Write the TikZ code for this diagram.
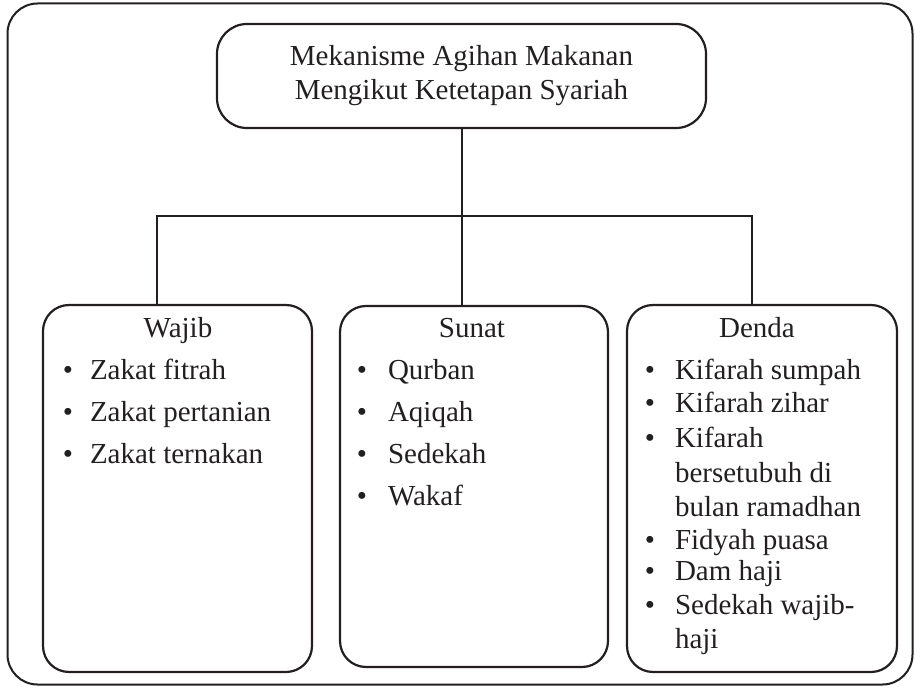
\documentclass[tikz,border=0pt]{standalone}
\usepackage{fontspec}
\setmainfont{Liberation Serif}
\definecolor{ink}{RGB}{35,31,32}
\begin{document}
\begin{tikzpicture}[x=1pt,y=-1pt,
  every node/.style={inner sep=0pt, outer sep=0pt, text=ink, font=\fontsize{29}{34}\selectfont},
  boxst/.style={draw=ink, line width=2.2pt, rounded corners=26pt, rectangle, anchor=north west},
  link/.style={draw=ink, line width=2pt}]
\useasboundingbox (0,0) rectangle (915,687);
% boxes
\node[boxst, line width=2pt, rounded corners=30pt, minimum width=905pt, minimum height=681pt] (outer) at (7.5,3.5) {};
\node[boxst, rounded corners=30pt, minimum width=489pt, minimum height=104pt] (top) at (217,24) {};
\node[boxst, minimum width=269pt, minimum height=367pt] (wajib) at (43,305) {};
\node[boxst, minimum width=268pt, minimum height=361pt] (sunat) at (340,306) {};
\node[boxst, minimum width=270pt, minimum height=367pt] (denda) at (627,305) {};
% title
\node[align=center] (title) at (top.center) {Mekanisme Agihan Makanan\\Mengikut Ketetapan Syariah};
% connectors
\coordinate (hl) at (157,216);
\coordinate (hr) at (752,216);
\draw[link] (wajib.north -| hl) -- (hl) -- (hr) -- (denda.north -| hr);
\draw[link] (top.south) -- (top.south |- sunat.north);
% headings
\node[anchor=base] (wt) at (178,337) {Wajib};
\node[anchor=base] (st) at (472,337) {Sunat};
\node[anchor=base] (dt) at (757,337) {Denda};
% Wajib items
\foreach \t/\y [count=\i] in {Zakat fitrah/379, Zakat pertanian/421, Zakat ternakan/463}{
  \node[anchor=base] (wb\i) at (68,\y) {•};
  \node[anchor=base west] (wi\i) at (90,\y) {\t};
}
% Sunat items
\foreach \t/\y [count=\i] in {Qurban/379, Aqiqah/421, Sedekah/463, Wakaf/505}{
  \node[anchor=base] (sb\i) at (362,\y) {•};
  \node[anchor=base west] (si\i) at (388,\y) {\t};
}
% Denda items
\foreach \y [count=\i] in {379,412,447,549,580,614}{
  \node[anchor=base] (db\i) at (650,\y) {•};
}
\foreach \t/\y [count=\i] in {Kifarah sumpah/379, Kifarah zihar/412, Kifarah/447, bersetubuh di/482, bulan ramadhan/516, Fidyah puasa/549, Dam haji/580, Sedekah wajib-/614, haji/648}{
  \node[anchor=base west] (di\i) at (675,\y) {\t};
}
\end{tikzpicture}
\end{document}
